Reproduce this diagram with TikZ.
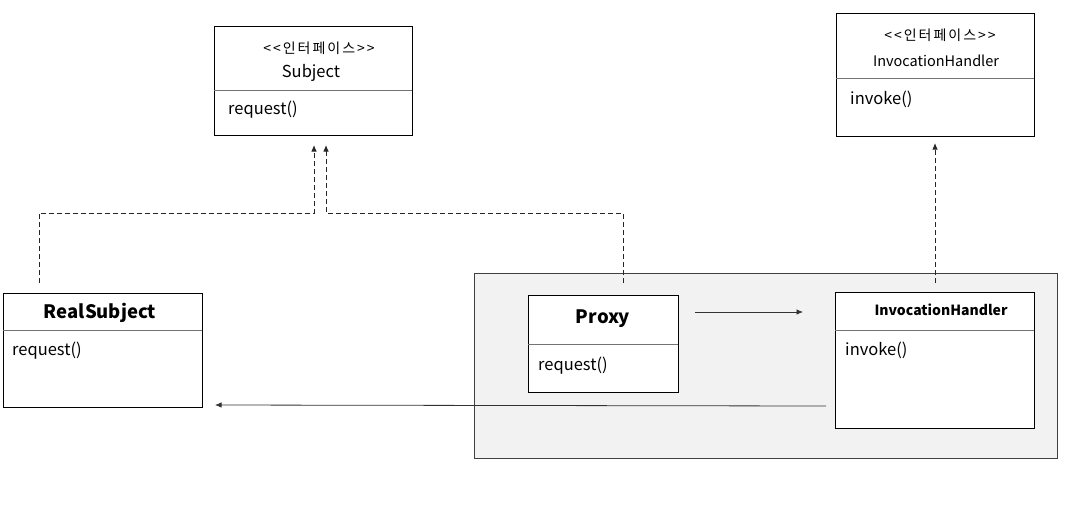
\documentclass[tikz,border=0pt]{standalone}
\usepackage{fontspec}
\setmainfont{Noto Sans CJK KR}
\usetikzlibrary{arrows.meta}
\newcommand\gp{\hspace{2pt}}
\newcommand\stereotxt{<\gp{}<\gp{}인\gp{}터\gp{}페\gp{}이\gp{}스\gp{}>\gp{}>}
\tikzset{
  umlbox/.style={draw=black, line width=1.2pt, fill=white, anchor=north west, inner sep=0pt},
  divider/.style={draw=black!55, line width=0.8pt},
  conn/.style={draw=black!80, line width=0.8pt, -{Latex[length=6.5pt,width=5.5pt]}},
  realize/.style={draw=black!85, line width=1pt, dash pattern=on 5pt off 3pt, -{Latex[length=6.5pt,width=5.5pt]}},
  lbl/.style={inner sep=0pt, font=\fontsize{16.5}{19}\selectfont},
  stereo/.style={inner sep=0pt, font=\fontsize{14}{16}\selectfont},
  iname/.style={inner sep=0pt, font=\fontsize{14.5}{17}\selectfont},
  title/.style={inner sep=0pt, font=\bfseries\fontsize{18.5}{21}\selectfont},
}
\begin{document}
\begin{tikzpicture}[x=1pt,y=-1pt]
\useasboundingbox (0,0) rectangle (1083,517);
% container
\node[draw=black!75, line width=1pt, fill=black!5, anchor=north west, minimum width=583pt, minimum height=185pt, inner sep=0pt] (group) at (474,273) {};
% Subject interface
\node[umlbox, minimum width=198pt, minimum height=109pt] (subj) at (214,26) {};
\draw[divider] (214,90) -- (412,90);
\node[stereo] (subjst) at (319,48) {\stereotxt};
\node[iname, font=\fontsize{16.5}{19}\selectfont] (subjname) at (311,73) {Subject};
\node[lbl, anchor=west] (subjop) at (228,110) {request()};
% InvocationHandler interface
\node[umlbox, minimum width=198pt, minimum height=123pt] (ihi) at (836,13) {};
\draw[divider] (836,78) -- (1034,78);
\node[stereo] (ihist) at (940,35) {\stereotxt};
\node[iname] (ihiname) at (936,61) {InvocationHandler};
\node[lbl, anchor=west] (ihiop) at (850,99) {invoke()};
% RealSubject
\node[umlbox, minimum width=199pt, minimum height=114pt] (real) at (3,293) {};
\draw[divider] (3,330) -- (202,330);
\node[title] (realname) at (100,313) {RealSubject};
\node[lbl, anchor=west] (realop) at (12,351) {request()};
% Proxy
\node[umlbox, minimum width=150pt, minimum height=97pt] (proxy) at (528,295) {};
\draw[divider] (528,344) -- (678,344);
\node[title] (proxyname) at (603,319) {Proxy};
\node[lbl, anchor=west] (proxyop) at (538,366) {request()};
% InvocationHandler implementation
\node[umlbox, minimum width=199pt, minimum height=136pt] (ih) at (835,292) {};
\draw[divider] (835,330) -- (1034,330);
\node[inner sep=0pt, font=\bfseries\fontsize{14}{17}\selectfont] (ihname) at (941,310) {InvocationHandler};
\node[lbl, anchor=west] (ihop) at (845,350) {invoke()};
% connector coordinates
\coordinate (realtop) at (39,283);
\coordinate (proxytop) at (623,283);
\coordinate (ihtop) at (935,283);
\coordinate (subjin1) at (314,145);
\coordinate (subjin2) at (326,145);
\coordinate (ihiin) at (935,143);
\coordinate (pout) at (695,312);
\coordinate (ihin) at (803,312);
\coordinate (ihout) at (826,406);
\coordinate (realin) at (215,405);
% realizations
\draw[realize] (realtop) -- (39,213) -- (314,213) -- (subjin1);
\draw[realize] (proxytop) -- (623,213) -- (326,213) -- (subjin2);
\draw[realize] (ihtop) -- (ihiin);
% associations
\draw[conn] (pout) -- (ihin);
\draw[conn] (ihout) -- (realin);
\end{tikzpicture}
\end{document}
